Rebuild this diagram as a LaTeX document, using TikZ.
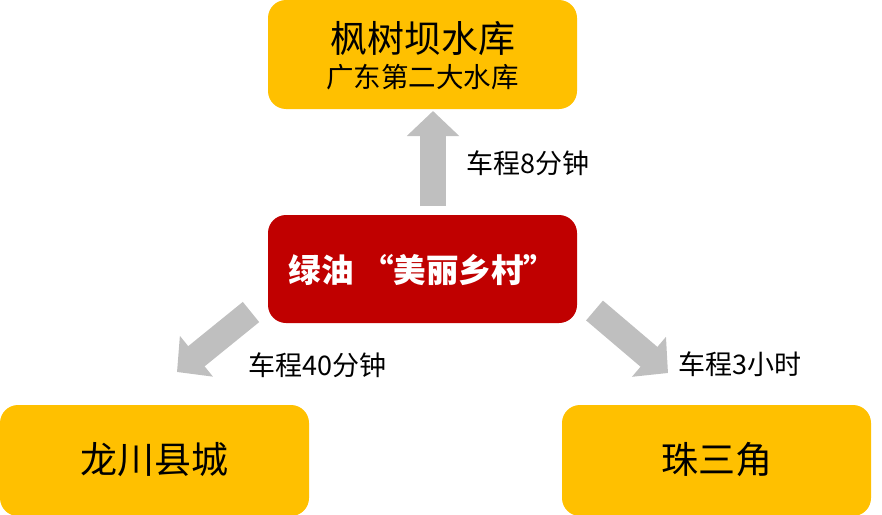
\documentclass[tikz,border=0pt]{standalone}
\usepackage{fontspec}
\setmainfont{Noto Sans CJK SC}
\usetikzlibrary{arrows.meta}
\definecolor{boxorange}{HTML}{FFC000}
\definecolor{boxred}{HTML}{C00000}
\definecolor{arrowgrey}{HTML}{BFBFBF}
\tikzset{
  placebox/.style={fill=boxorange, draw=none, rounded corners=18pt, minimum width=309pt, minimum height=#1, inner sep=0pt},
  placebox/.default=109pt,
  hubbox/.style={fill=boxred, draw=none, rounded corners=18pt, minimum width=309pt, minimum height=108pt, inner sep=0pt},
  bigtext/.style={inner sep=0pt, font=\fontsize{37}{40}\selectfont},
  subtext/.style={inner sep=0pt, font=\fontsize{27.5}{30}\selectfont},
  hubtext/.style={inner sep=0pt, text=white, font=\bfseries\fontsize{32.5}{36}\selectfont},
  timetext/.style={inner sep=0pt, anchor=west, font=\fontsize{27}{30}\selectfont},
  blockarrow/.style={draw=arrowgrey, line width=26pt, line cap=butt, -{Triangle[length=25pt,width=51pt,fill=arrowgrey]}}
}
\begin{document}
\begin{tikzpicture}[x=1pt,y=-1pt]
\useasboundingbox (0,0) rectangle (882,514);
% boxes
\node[placebox] (top) at (422.5,54.5) {};
\node[hubbox] (hub) at (422.5,269) {};
\node[placebox=111pt] (left) at (154.5,460.5) {};
\node[placebox=111pt] (right) at (716.5,460.5) {};
% texts
\node[bigtext] (toptitle) at (422.5,39) {枫树坝水库};
\node[subtext] (topsub) at (422.5,77) {广东第二大水库};
\node[hubtext] (hubtitle) at (422.5,270) {绿油 “美丽乡村”};
\node[bigtext] (lefttitle) at (154.5,460) {龙川县城};
\node[bigtext] (righttitle) at (716.5,460) {珠三角};
% arrow ends
\coordinate (upTail) at (433,206);
\coordinate (upTip) at (433,111);
\coordinate (leftTail) at (251,312);
\coordinate (leftTip) at (177,372);
\coordinate (rightTail) at (594.5,310.5);
\coordinate (rightTip) at (668,373);
\draw[blockarrow] (upTail) -- (upTip);
\draw[blockarrow] (leftTail) -- (leftTip);
\draw[blockarrow] (rightTail) -- (rightTip);
% labels
\node[timetext] (upLabel) at (466,163) {车程8分钟};
\node[timetext] (leftLabel) at (248,365) {车程40分钟};
\node[timetext] (rightLabel) at (678,364) {车程3小时};
\end{tikzpicture}
\end{document}
